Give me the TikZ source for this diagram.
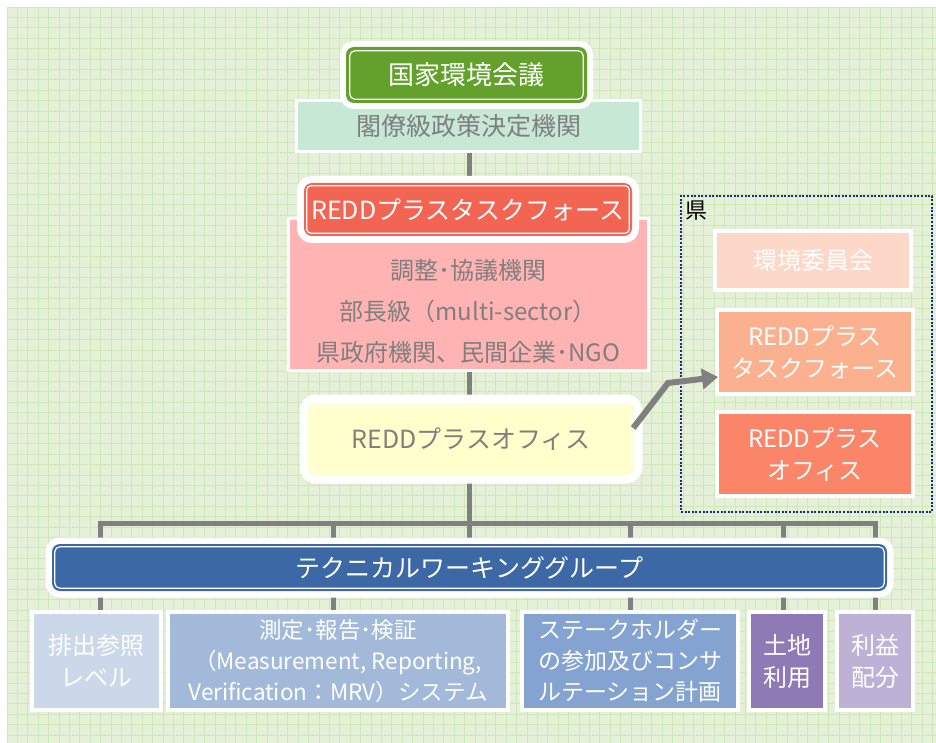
\documentclass[tikz,border=0pt]{standalone}
\usepackage{fontspec}
\setmainfont{Noto Sans CJK JP}
\usetikzlibrary{arrows.meta,calc}
\pgfdeclarelayer{gridlayer}
\pgfdeclarelayer{bglayer}
\pgfsetlayers{gridlayer,bglayer,main}
\definecolor{bgc}{HTML}{E4F1D8}
\definecolor{gridc}{HTML}{D0E7BA}
\definecolor{cgreen}{HTML}{63A02C}
\definecolor{cmint}{HTML}{C7E8D5}
\definecolor{cred}{HTML}{F36553}
\definecolor{cpink}{HTML}{FFB3B3}
\definecolor{cyellow}{HTML}{FFFFCC}
\definecolor{cyline}{HTML}{FFFFEE}
\definecolor{cblue}{HTML}{3C68A5}
\definecolor{ckc}{HTML}{FDD8C8}
\definecolor{crtf}{HTML}{FBB090}
\definecolor{crof}{HTML}{FA8568}
\definecolor{cbA}{HTML}{CAD8EA}
\definecolor{cbB}{HTML}{A3B9DA}
\definecolor{cbC}{HTML}{84A3D0}
\definecolor{cbD}{HTML}{8E7BB5}
\definecolor{cbE}{HTML}{BEB1D6}
\definecolor{ctext}{HTML}{7F7F7F}
\definecolor{cline}{HTML}{808080}
\definecolor{cnavy}{HTML}{1A2A80}
\begin{document}
\begin{tikzpicture}[x=1pt,y=-1pt,
  framed/.style={rounded corners=8pt, preaction={draw=white, line width=#1}},
  headbox/.style={inner sep=0pt, text=white, font=\fontsize{25}{30}\selectfont},
  plainbox/.style={draw=white, line width=4pt, inner sep=0pt, align=center, text=white, font=\fontsize{24}{32}\selectfont},
  conn/.style={draw=cline, line width=5pt},
  arrowline/.style={draw=cline, line width=6pt, -{Triangle[length=16pt,width=20pt]}},
  innerline/.style={draw=white, line width=1.2pt, rounded corners=5pt}
]
\useasboundingbox (0,0) rectangle (936,743);
\begin{pgfonlayer}{gridlayer}
  \fill[white] (0,0) rectangle (936,743);
  \fill[bgc] (7,7) rectangle (936,743);
  \foreach \gx in {7,17.4,...,936} \draw[gridc, line width=0.8pt] (\gx,7) -- (\gx,743);
  \foreach \gy in {7,17.4,...,743} \draw[gridc, line width=0.8pt] (7,\gy) -- (936,\gy);
\end{pgfonlayer}

% national level
\node[fill=cmint, draw=white, line width=3pt, minimum width=344, minimum height=51, inner sep=0pt,
      text=ctext, font=\fontsize{25}{30}\selectfont] (mint) at (468.5,126) {閣僚級政策決定機関};
\node[headbox, fill=cgreen, framed=12pt, minimum width=241, minimum height=56,
      font=\fontsize{26}{30}\selectfont] (nec) at (466.5,75) {国家環境会議};
\draw[innerline] ($(nec.north west)+(4,4)$) rectangle ($(nec.south east)+(-4,-4)$);

% task force
\node[fill=cpink, draw=white, line width=3pt, minimum width=360, minimum height=152, inner sep=0pt] (tfbox) at (468.5,294.5) {};
\node[headbox, fill=cred, framed=14pt, minimum width=328, minimum height=53] (tf) at (468,209.5) {REDDプラスタスクフォース};
\draw[innerline, rounded corners=4pt] ($(tf.north west)+(3,3)$) rectangle ($(tf.south east)+(-3,-3)$);
\node[align=center, text=ctext, font=\fontsize{24}{41}\selectfont, inner sep=0pt] (tfdesc) at (468,311)
  {調整･協議機関\\部長級（multi-sector）\\県政府機関、民間企業･NGO};

% office
\node[fill=cyellow, framed=17pt, minimum width=326, minimum height=72, inner sep=0pt,
      text=ctext, font=\fontsize{25}{30}\selectfont] (office) at (471,439) {REDDプラスオフィス};
\draw[draw=cyline, line width=1.5pt, rounded corners=5pt] ($(office.north west)+(4,4)$) rectangle ($(office.south east)+(-4,-4)$);

% prefecture
\node[draw=cnavy, line width=2pt, dash pattern=on 2pt off 1.6pt, minimum width=251, minimum height=316, inner sep=0pt] (pref) at (806.5,354) {};
\node[anchor=north west, inner sep=0pt, font=\fontsize{22}{24}\selectfont] (preflabel) at ($(pref.north west)+(5,6)$) {県};
\node[plainbox, fill=ckc, minimum width=196, minimum height=59] (kc) at (813,260.5) {環境委員会};
\node[plainbox, fill=crtf, minimum width=196, minimum height=84] (rtf) at (815,352) {REDDプラス\\タスクフォース};
\node[plainbox, fill=crof, minimum width=196, minimum height=84] (rof) at (815,454) {REDDプラス\\オフィス};

% working group
\node[headbox, fill=cblue, framed=13pt, minimum width=835, minimum height=47] (wg) at (469.5,567.5) {テクニカルワーキンググループ};
\draw[innerline, rounded corners=5pt] ($(wg.north west)+(3,3)$) rectangle ($(wg.south east)+(-3,-3)$);

% bottom boxes
\node[plainbox, fill=cbA, minimum width=129, minimum height=98] (b1) at (96.5,661) {排出参照\\レベル};
\node[plainbox, fill=cbB, minimum width=340, minimum height=98, font=\fontsize{22.5}{31}\selectfont] (b2) at (338,661) {測定･報告･検証\\（Measurement, Reporting,\\Verification：MRV）システム};
\node[plainbox, fill=cbC, minimum width=216, minimum height=98, font=\fontsize{23}{31}\selectfont] (b3) at (630,661) {ステークホルダー\\の参加及びコンサ\\ルテーション計画};
\node[plainbox, fill=cbD, minimum width=76, minimum height=98] (b4) at (787,661) {土地\\利用};
\node[plainbox, fill=cbE, minimum width=76, minimum height=98] (b5) at (875,661) {利益\\配分};

% connectors
\coordinate (jn) at (469,523);
\coordinate (d1) at (100,523);
\coordinate (d2) at (333,523);
\coordinate (d3) at (630,523);
\coordinate (d4) at (783,523);
\coordinate (d5) at (875,523);
\begin{pgfonlayer}{bglayer}
  \draw[conn] (jn |- mint.south) -- (jn |- wg.north);
  \draw[conn] ([xshift=-2.5pt]d1) -- ([xshift=2.5pt]d5);
  \draw[conn] (d1) -- (d1 |- b1.north);
  \draw[conn] (d2) -- (d2 |- b2.north);
  \draw[conn] (d3) -- (d3 |- b3.north);
  \draw[conn] (d4) -- (d4 |- b4.north);
  \draw[conn] (d5) -- (d5 |- b5.north);
\end{pgfonlayer}
\draw[arrowline] ($(office.east)+(-1,-11)$) -- (668,383) -- ($(rtf.west)+(3,25)$);
\end{tikzpicture}
\end{document}
